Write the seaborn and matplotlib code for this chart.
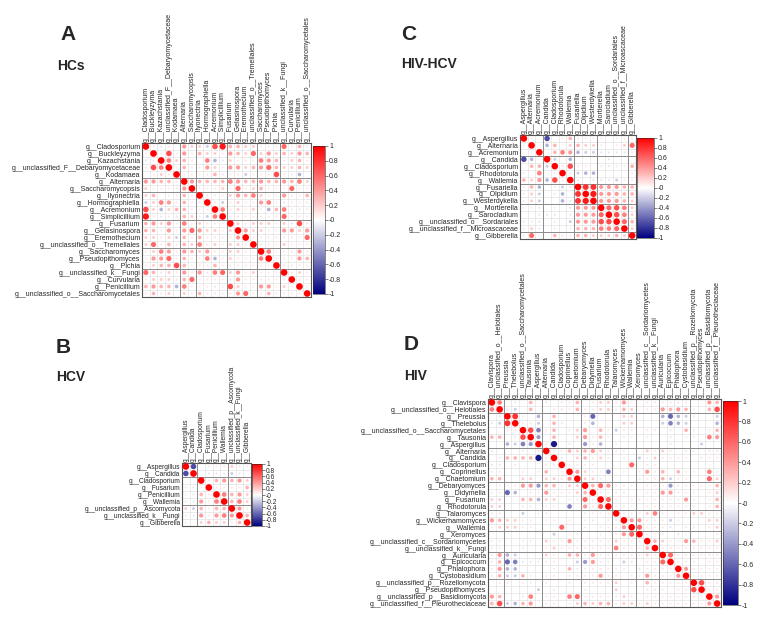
import numpy as np
import pandas as pd
import seaborn as sns
import matplotlib
matplotlib.use('Agg')
import matplotlib.pyplot as plt
from matplotlib.colors import LinearSegmentedColormap, Normalize
from matplotlib.cm import ScalarMappable

sns.set_style('white')
plt.rcParams['font.family'] = ['Liberation Sans', 'DejaVu Sans']

W, H = 760, 618

# ---- panel A: HCs (lower triangle, correlation x10) ----
hcs_names = ['Cladosporium', 'Buckleyzyma', 'Kazachstania', 'unclassified_F__Debaryomycetaceae',
             'Kodamaea', 'Alternaria', 'Saccharomycopsis', 'Ilyonectria', 'Hormographiella',
             'Acremonium', 'Simplicillium', 'Fusarium', 'Gelasinospora', 'Eremothecium',
             'unclassified_o__Tremellales', 'Saccharomyces', 'Pseudopithomyces', 'Pichia',
             'unclassified_k__Fungi', 'Curvularia', 'Penicillium', 'unclassified_o__Saccharomycetales']
hcs_lower = [
    [1],
    [-1, 1],
    [1, 7, 5],
    [0, 1, 2, 1],
    [4, 4, 3, 3, 1],
    [2, 1, 1, 1, 1, 4],
    [2, 3, 0, 1, 1, 3, 1],
    [-2, 2, 5, 4, 1, 3, 1, 1],
    [7, 2, -3, 2, 3, 3, 1, 1, 1],
    [9, 1, -1, 1, -1, 3, 2, 1, -2, 5],
    [3, 4, 2, 4, 1, 5, 1, 2, 1, 1, 1],
    [3, 3, 1, 4, 1, 4, 6, 4, 2, 2, 1, 2],
    [2, 2, 1, 2, -2, 3, 1, 3, 1, 1, 1, 1, 4],
    [2, 6, 1, 3, 1, 3, 2, 5, 1, 2, 1, 2, 2, 1],
    [1, 2, 5, 4, 1, 4, 3, 2, 4, 1, 1, 2, 2, 1, 1],
    [1, 4, 4, 6, 1, 3, 1, 1, 5, -3, 1, 2, 1, 1, 1, 5],
    [1, 2, 3, 3, 7, 3, 1, 1, 1, 3, 1, 1, 1, 1, 1, 1, 1],
    [6, 3, -1, 2, 1, 4, 1, 4, -1, 5, 6, 2, 4, 1, 2, 1, 1, 1],
    [1, 2, 2, 2, 1, 3, 6, 1, 1, 1, 1, -1, 4, 1, 1, 1, 1, 1, 1],
    [3, 4, 3, 3, -3, 5, 1, 1, 1, -1, 1, 7, 2, 1, 1, 4, 4, 1, 2, 1],
    [1, 3, 1, 2, 0, 2, 1, 3, 1, 1, 1, 1, 4, 6, 1, 1, 3, 1, 1, 1, 1],
]
hcs_groups = [5, 7, 11, 15, 18]

# ---- panel B: HCV ----
hcv_names = ['Aspergillus', 'Candida', 'Cladosporium', 'Fusarium', 'Penicillium', 'Wallemia',
             'unclassified_p__Ascomycota', 'unclassified_k__Fungi', 'Gibberella']
hcv_lower = [
    [-7],
    [0, 0],
    [1, -1, 1],
    [1, -1, 3, 1],
    [1, -1, 4, 1, 5],
    [2, -2, 3, 1, 3, 3],
    [1, -1, 4, 1, 4, 5, 4],
    [1, 0, 2, 3, 2, 2, 1, 3],
]
hcv_groups = [2, 6]

# ---- panel C: HIV-HCV ----
hivhcv_names = ['Aspergillus', 'Alternaria', 'Acremonium', 'Candida', 'Cladosporium', 'Rhodotorula',
                'Wallemia', 'Fusariella', 'Olpidium', 'Westerdykella', 'Mortierella', 'Sarocladium',
                'unclassified_o__Sordariales', 'unclassified_f__Microascaceae', 'Gibberella']
hivhcv_lower = [
    [1],
    [0, 0],
    [-7, -3, 0],
    [0, 3, 3, -2],
    [1, 0, 5, 0, 1],
    [3, 2, 4, -3, 7, 1],
    [1, 3, -3, 0, 1, -2, 1],
    [1, 2, -2, 0, 1, -3, 0, 8],
    [1, 2, -2, 0, 0, -3, -1, 8, 9],
    [1, 1, -1, 0, 1, 0, -1, 4, 4, 4],
    [0, 0, -1, -1, -1, 0, -1, 4, 4, 4, 6],
    [1, 1, -1, 0, 1, 0, -2, 4, 4, 4, 7, 7],
    [1, 2, -1, 0, 1, 0, 1, 3, 3, 3, 5, 5, 6],
    [1, 6, 1, 0, 3, 1, 1, 3, 3, 2, 2, 2, 3, 2],
]
hivhcv_groups = [3, 7, 10, 14]

# ---- panel D: HIV ----
hiv_names = ['Clavispora', 'unclassified_o__Helotiales', 'Preussia', 'Thelebolus',
             'unclassified_o__Saccharomycetales', 'Tausonia', 'Aspergillus', 'Alternaria', 'Candida',
             'Cladosporium', 'Coprinellus', 'Chaetomium', 'Debaryomyces', 'Didymella', 'Fusarium',
             'Rhodotorula', 'Talaromyces', 'Wickerhamomyces', 'Wallemia', 'Xeromyces',
             'unclassified_c__Sordariomycetes', 'unclassified_k__Fungi', 'Auricularia', 'Epicoccum',
             'Phialophora', 'Cystobasidium', 'unclassified_p__Rozellomycota', 'Pseudopithomyces',
             'unclassified_p__Basidiomycota', 'unclassified_f__Pleurotheciaceae']
hiv_lower = [
    [5],
    [0, -1],
    [-1, -2, 8],
    [0, 0, 1, 1],
    [3, 3, 0, 1, 7],
    [0, 0, -3, -2, -5, -4],
    [-1, 0, 0, 0, 1, 0, 1],
    [0, 1, 3, 3, 3, 3, -9, 1],
    [-1, -1, 0, 1, 0, 0, 0, 1, -1],
    [1, 1, 0, 0, 1, 0, 1, 3, 0, 1],
    [3, 3, 0, 0, 2, 2, 0, 2, 2, 1, 4],
    [0, 1, 1, 1, 4, 4, -4, 3, 3, 1, 2, 2],
    [1, 1, -6, -3, 0, 1, 1, 4, 1, 1, 1, 2, 3],
    [2, 2, 0, 0, 3, 3, -3, 2, 2, 0, 1, 1, 6, 1],
    [2, 2, 0, 0, 1, 1, 0, 1, 1, 0, -5, 0, 4, 1, 6],
    [1, 1, 0, 0, -2, 0, 1, 1, 0, 0, 0, 0, 1, 1, 1, 1],
    [4, 3, 2, 2, 1, 1, 0, 1, 1, 0, 1, 0, 1, -1, 0, 1, 1],
    [1, 2, 2, 2, 1, 1, 0, 0, 0, 6, 0, 0, 1, 0, 1, 1, 1, 4],
    [0, 0, 0, 0, 0, 0, 0, 0, -2, 0, 1, 1, 0, 0, 1, 0, 1, 4, 6],
    [1, 1, 0, 0, 1, 1, 0, 2, 1, 1, 4, 1, 1, 1, 1, 1, 2, 1, 1, 1],
    [1, 1, 0, 0, 1, 0, 0, 1, 2, 1, 1, 1, 1, 1, 1, 1, 5, 1, 1, 1, 3],
    [1, 4, -3, -2, 0, 0, 0, 2, 1, 0, 3, 3, 1, 4, 1, 1, 1, 1, 1, 1, 2, 1],
    [1, 3, -6, -5, -1, -1, 1, 1, 1, 0, 0, -2, -4, 4, 1, 1, 0, -2, -1, 0, 1, 1, 6],
    [1, 4, -3, -3, 0, 0, 0, 0, 1, 0, 3, 1, 1, 1, 1, 1, 1, 1, 0, -1, 1, 1, 1, 1],
    [1, 3, -2, -2, 3, 1, 0, 1, 1, 0, 1, 1, 1, 1, 4, 1, 1, 0, 1, 1, 4, 1, 1, 1, 4],
    [0, 1, 1, 0, 1, 1, 0, 1, 0, 0, 1, 0, 1, 1, 1, 1, 2, 0, 1, 0, 3, 1, 1, 1, 1, 1],
    [0, 0, 0, 0, 0, 0, -2, 0, 1, 0, 0, 0, 1, 0, 0, 0, 2, 0, 0, 0, 1, 1, 1, 0, 1, 1, 7],
    [4, 3, 0, 0, 1, 5, 0, 1, 1, 0, 5, 6, 1, 1, 1, 1, 1, 2, 1, 0, 1, 1, 1, 1, 1, 1, 1, 1],
    [3, 7, -2, -3, 3, 4, 0, 1, 1, 0, 1, 2, 3, 2, 3, 3, 1, 2, 2, 1, 2, 1, 1, 1, 1, 1, 1, 1, 4],
]
hiv_groups = [2, 7, 12, 16, 19, 22, 26]

cmap = LinearSegmentedColormap.from_list('corr', ['#00007F', '#FFFFFF', '#FF0000'])


def sym(lower):
    n = len(lower) + 1
    m = np.eye(n)
    for i, row in enumerate(lower, start=1):
        for j, v in enumerate(row):
            m[i, j] = m[j, i] = v / 10
    return m


def px(x0, y0, x1, y1):
    # pixel box -> figure fraction rect
    return [x0 / W, 1 - y1 / H, (x1 - x0) / W, (y1 - y0) / H]


def corr_panel(fig, box, cbox, names, lower, groups, fs=5):
    mat = sym(lower)
    n = len(names)
    labels = ['g__' + s for s in names]
    ax = fig.add_axes(px(*box))
    ii, jj = np.meshgrid(range(n), range(n), indexing='ij')
    df = pd.DataFrame({'col': jj.ravel(), 'row': ii.ravel(), 'r': mat.ravel()})
    df['a'] = df['r'].abs()
    cw = (box[2] - box[0]) / n * 0.72
    ch = (box[3] - box[1]) / n * 0.72
    smax = (0.95 * min(cw, ch)) ** 2
    for k in range(n + 1):
        ax.axhline(k - 0.5, color='#dcdcdc', lw=0.4, zorder=0)
        ax.axvline(k - 0.5, color='#dcdcdc', lw=0.4, zorder=0)
    for g in groups:
        ax.axhline(g - 0.5, color='#8c8c8c', lw=0.7, zorder=1)
        ax.axvline(g - 0.5, color='#8c8c8c', lw=0.7, zorder=1)
    sns.scatterplot(data=df, x='col', y='row', hue='r', palette=cmap, hue_norm=(-1, 1),
                    size='a', sizes=(0, smax), size_norm=(0, 1), legend=False,
                    linewidth=0, ax=ax, zorder=3)
    ax.set_xlim(-0.5, n - 0.5)
    ax.set_ylim(n - 0.5, -0.5)
    ax.set_xlabel('')
    ax.set_ylabel('')
    ax.set_xticks(range(n))
    ax.set_xticklabels(labels, rotation=90, fontsize=fs)
    ax.xaxis.tick_top()
    ax.set_yticks(range(n))
    ax.set_yticklabels(labels, fontsize=fs)
    ax.tick_params(length=0, pad=1)
    for sp in ax.spines.values():
        sp.set_color('#555555')
        sp.set_linewidth(0.8)

    cax = fig.add_axes(px(*cbox))
    sm = ScalarMappable(norm=Normalize(-1, 1), cmap=cmap)
    cb = fig.colorbar(sm, cax=cax)
    ticks = np.round(np.arange(-1, 1.01, 0.2), 1)
    cb.set_ticks(ticks)
    cb.set_ticklabels([f'{t:g}' for t in ticks])
    cb.outline.set_linewidth(0.4)
    cax.tick_params(labelsize=fs, length=2, width=0.4, pad=1)


fig = plt.figure(figsize=(7.6, 6.18), dpi=100)

corr_panel(fig, (142, 143, 311, 297), (313, 146, 325, 294), hcs_names, hcs_lower, hcs_groups)
corr_panel(fig, (182, 463, 251, 526), (252, 464, 262, 526), hcv_names, hcv_lower, hcv_groups, fs=4.8)
corr_panel(fig, (520, 135, 636, 239), (637, 138, 654, 238), hivhcv_names, hivhcv_lower, hivhcv_groups)
corr_panel(fig, (488, 399, 721, 607), (723, 401, 738, 605), hiv_names, hiv_lower, hiv_groups)

# panel letters and group titles
for x, y, t, s in [(60, 25, 'A', 15), (57, 59, 'HCs', 10),
                   (401, 25, 'C', 15), (401, 57, 'HIV-HCV', 10),
                   (56, 338, 'B', 15), (56, 370, 'HCV', 10),
                   (404, 335, 'D', 15), (404, 369, 'HIV', 10)]:
    fig.text(x / W, 1 - y / H, t, fontsize=s, fontweight='bold', va='top', ha='left')

fig.savefig('out.png', dpi=100)
plt.close(fig)
